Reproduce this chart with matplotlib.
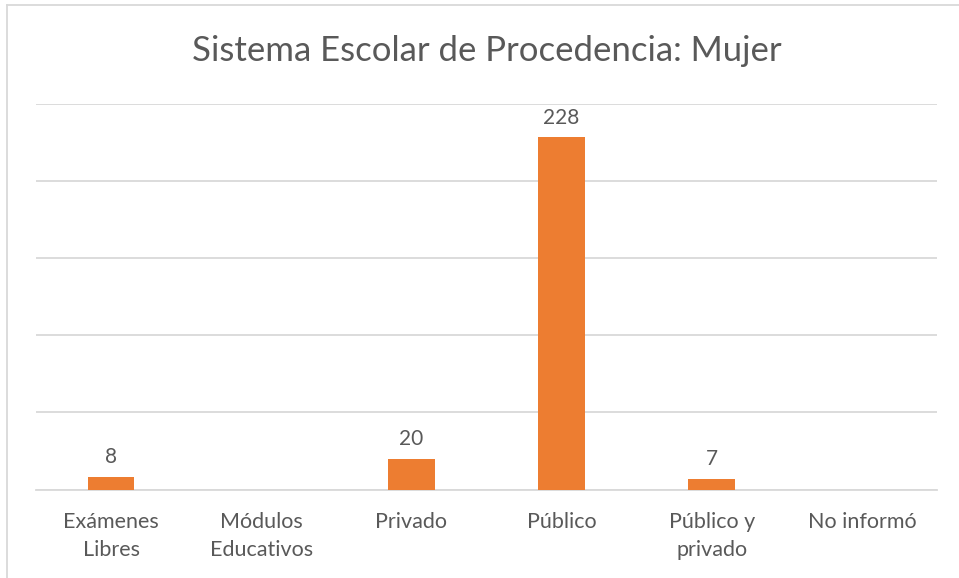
import numpy as np
import matplotlib
matplotlib.use('Agg')
import matplotlib.pyplot as plt
from matplotlib.lines import Line2D

categories = ['Exámenes\nLibres', 'Módulos\nEducativos', 'Privado', 'Público', 'Público y\nprivado', 'No informó']
values = [8, np.nan, 20, 228, 7, np.nan]
title = 'Sistema Escolar de Procedencia: Mujer'

plt.rcParams['font.family'] = ['Lato', 'DejaVu Sans']
text_color = '#595959'
bar_color = '#ED7D31'
grid_color = '#D9D9D9'

W, H = 959, 578
fig = plt.figure(figsize=(W / 100, H / 100), dpi=100)
ax = fig.add_axes([36 / W, 1 - 489.5 / H, (937 - 36) / W, (489.5 - 103.5) / H])

x = np.arange(len(categories))
heights = np.nan_to_num(values)
bars = ax.bar(x, heights, width=0.31, color=bar_color, zorder=3)

for xi, v in zip(x, values):
    if not np.isnan(v):
        ax.annotate(f'{int(v)}', (xi, v), xytext=(0, 7), textcoords='offset points',
                    ha='center', va='bottom', fontsize=15, color=text_color)

ax.set_xlim(-0.5, len(categories) - 0.5)
ax.set_ylim(0, 250)
ax.set_yticks(np.arange(0, 251, 50))
ax.yaxis.grid(True, color=grid_color, linewidth=1.3, zorder=0)
ax.tick_params(axis='y', left=False, labelleft=False)
ax.tick_params(axis='x', bottom=False, pad=13)
ax.set_xticks(x)
ax.set_xticklabels(categories, fontsize=15.5, color=text_color, linespacing=1.45, va='top')
for s in ['top', 'right', 'left']:
    ax.spines[s].set_visible(False)
ax.spines['bottom'].set_color(grid_color)
ax.spines['bottom'].set_linewidth(1.3)

fig.text(0.5 * (36 + 937) / W, 1 - 51 / H, title, ha='center', va='center',
         fontsize=25, color=text_color)

# chart area border (partially visible)
fig.add_artist(Line2D([7 / W, 7 / W], [0, 1 - 5 / H], color=grid_color, linewidth=1.3))
fig.add_artist(Line2D([7 / W, 1], [1 - 5 / H, 1 - 5 / H], color=grid_color, linewidth=1.3))

fig.savefig('out.png', dpi=100)
